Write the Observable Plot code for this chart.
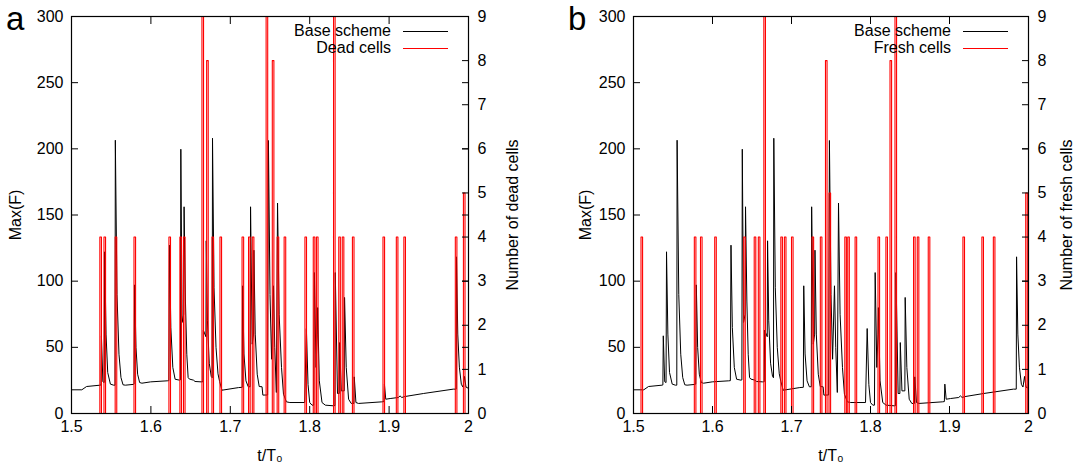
<!DOCTYPE html>
<html><head><meta charset="utf-8">
<script src="https://cdn.jsdelivr.net/npm/d3@7"></script>
<script src="https://cdn.jsdelivr.net/npm/@observablehq/plot@0.6"></script>
<style>
body{margin:0;background:#fff;}
#wrap{display:flex;width:1080px;height:466px;position:relative;font-family:"Liberation Sans",Arial,Helvetica,sans-serif;}
.panel{position:relative;width:540px;height:466px;}
.letter{position:absolute;font-size:33px;line-height:1;}
.leg{position:absolute;font-size:16px;line-height:1;white-space:nowrap;}
.legline{position:absolute;height:1.3px;}
</style></head><body>
<div id="wrap"></div>
<script>
// Base scheme Max(F) curve (same in both panels): [t/T0, Max(F)]
const baseScheme = [[1.500,17.9],[1.513,17.9],[1.519,20.4],[1.536,21.4],[1.5372,21.6],[1.5377,58.7],[1.5395,24],[1.5412,23.4],[1.5418,122.2],[1.5435,60],[1.5456,31],[1.549,22.2],[1.5531,21.4],[1.5548,21.4],[1.5552,206.5],[1.5573,90],[1.5598,44.8],[1.5623,27.2],[1.5649,21.7],[1.5678,21.4],[1.578,22],[1.5788,22.2],[1.5795,97.2],[1.5812,50],[1.5833,29.7],[1.5858,23.4],[1.5887,22.9],[1.5996,23.9],[1.6205,24.7],[1.6226,24.8],[1.6234,127.2],[1.6251,65],[1.6276,34.8],[1.6305,25.9],[1.636,25.2],[1.6372,25.4],[1.6377,199.7],[1.6393,68.8],[1.6413,75],[1.6418,156.2],[1.6435,85],[1.6452,44.8],[1.6469,27.2],[1.6485,26],[1.6536,25.2],[1.6556,24.2],[1.6632,23.9],[1.6655,24],[1.666,63],[1.6693,58],[1.6697,130.5],[1.6712,70],[1.6735,38],[1.676,28],[1.6772,27],[1.6776,208],[1.6795,95],[1.682,50],[1.6845,30],[1.6866,24],[1.6895,17.6],[1.7105,19.6],[1.715,19.8],[1.7155,96.5],[1.7172,45],[1.7197,24.7],[1.7226,20.2],[1.725,20.2],[1.7255,156.2],[1.7276,52.4],[1.7293,60],[1.7297,123.4],[1.7314,60],[1.7339,29.7],[1.7364,20.4],[1.74,20.2],[1.741,13.9],[1.747,14],[1.748,206.3],[1.75,90],[1.752,41],[1.7544,96.5],[1.756,50],[1.758,15.9],[1.7595,159],[1.7615,75],[1.7645,34.8],[1.767,14.6],[1.7707,8.8],[1.775,8.3],[1.7937,8.3],[1.7958,64.2],[1.7979,22],[1.8,8.3],[1.8029,6.3],[1.805,6.3],[1.8059,106.5],[1.808,34.8],[1.8095,60],[1.81,80],[1.8121,24.7],[1.8155,8.3],[1.8197,6.3],[1.83,5.8],[1.8318,6],[1.8322,106.5],[1.835,15.1],[1.8372,15.1],[1.8377,53.6],[1.8398,17.1],[1.8435,17.1],[1.8439,87.7],[1.846,34.8],[1.849,10.8],[1.8523,7.6],[1.8556,7.6],[1.8561,27.7],[1.8582,8.3],[1.8615,7.6],[1.8908,8.8],[1.8935,9],[1.8941,22.2],[1.8958,10.8],[1.9013,11.3],[1.9117,12.1],[1.9138,13.3],[1.916,12.1],[1.9197,12.8],[1.9431,15.1],[1.9808,18.4],[1.9845,18.4],[1.9849,118.4],[1.9865,60],[1.9885,35],[1.991,22],[1.993,20],[1.995,28],[1.9968,20],[2.0,19]];

// Panel a: dead cells events
const deadTimes  = [1.5367,1.5419,1.5560,1.5797,1.6237,1.6375,1.6420,1.6653,1.6712,1.6779,1.6880,1.7158,1.7240,1.7287,1.7461,1.7539,1.7600,1.7688,1.7950,1.8055,1.8095,1.8310,1.8376,1.8420,1.8548,1.8933,1.9101,1.9196,1.9844,1.9946];
const deadCounts = [4,4,4,4,4,4,4,9,8,4,4,4,4,4,9,8,4,4,4,4,4,9,4,4,4,4,4,4,4,5];

// Panel b: fresh cells events
const freshTimes  = [1.5105,1.5780,1.5858,1.6038,1.6405,1.6538,1.6590,1.6660,1.6875,1.6920,1.7010,1.7270,1.7375,1.7440,1.7485,1.7685,1.7722,1.7815,1.8105,1.8205,1.8257,1.8320,1.8555,1.8602,1.8741,1.9180,1.9420,1.9565,1.9975];
const freshCounts = [4,4,4,4,4,4,4,9,4,4,4,4,4,8,5,4,4,4,4,4,8,9,4,4,4,4,4,4,5];

const xTicks  = [1.5,1.6,1.7,1.8,1.9,2];
const yTicks  = [0,50,100,150,200,250,300];
const y2Ticks = [0,1,2,3,4,5,6,7,8,9];
const y2Max = 9, yMax = 300;
const pulseWidth = 0.002;

const FONT = '"Liberation Sans", Arial, Helvetica, sans-serif';

function pulses(times, counts) {
  const pts = [{t:1.5, v:0}];
  times.forEach((t,i) => {
    const v = counts[i] * yMax / y2Max;
    pts.push({t:t-pulseWidth/2, v:0},{t:t-pulseWidth/2, v},{t:t+pulseWidth/2, v},{t:t+pulseWidth/2, v:0});
  });
  pts.push({t:2, v:0});
  return pts;
}

function panel(cfg) {
  const base = baseScheme.map(([t,v]) => ({t, v}));
  const red = pulses(cfg.times, cfg.counts);
  const plot = Plot.plot({
    width: 540, height: 466,
    marginLeft: cfg.ml, marginRight: cfg.mr, marginTop: 16, marginBottom: 53,
    style: {fontFamily: FONT, fontSize: "16px", color: "black", background: "white"},
    x: {domain: [1.5, 2]},
    y: {domain: [0, 300]},
    marks: [
      Plot.line(base, {x:"t", y:"v", stroke:"black", strokeWidth:1, clip:true}),
      Plot.line(red, {x:"t", y:"v", stroke:"#ff0000", strokeWidth:1.1, clip:true}),
      Plot.frame({stroke:"black", strokeWidth:1.2}),
      Plot.axisX({ticks: xTicks, tickSize: -7, tickPadding: 14, tickFormat: d => String(d),
        label: "t/T\u2080", labelAnchor: "center", labelArrow: "none", labelOffset: 47}),
      Plot.axisX({anchor: "top", ticks: xTicks, tickSize: -7, tickFormat: () => "", label: null}),
      Plot.axisY({ticks: yTicks, tickSize: -7, tickPadding: 15, tickFormat: d => String(d),
        label: "Max(F)", labelAnchor: "center", labelArrow: "none", labelOffset: cfg.lo}),
      Plot.axisY({anchor: "right", ticks: yTicks, tickSize: -7, tickFormat: () => "", label: null}),
      Plot.axisY({anchor: "right", ticks: y2Ticks.map(n => n * yMax / y2Max), tickSize: -7, tickPadding: 16,
        tickFormat: d => String(Math.round(d * y2Max / yMax)),
        label: cfg.y2label, labelAnchor: "center", labelArrow: "none", labelOffset: cfg.ro})
    ]
  });
  const div = document.createElement("div");
  div.className = "panel";
  div.appendChild(plot);
  const L = document.createElement("div");
  L.className = "letter"; L.textContent = cfg.letter;
  L.style.left = cfg.letterX + "px"; L.style.top = "2px";
  div.appendChild(L);
  const names = ["Base scheme", cfg.name];
  const cols = ["black", "#ff0000"];
  const frameRight = 540 - cfg.mr;
  names.forEach((n,i) => {
    const t = document.createElement("div");
    t.className = "leg"; t.textContent = n;
    t.style.right = (540 - (frameRight - 77)) + "px";
    t.style.top = (23 + i*16.8) + "px";
    div.appendChild(t);
    const ln = document.createElement("div");
    ln.className = "legline"; ln.style.background = cols[i];
    ln.style.left = (frameRight - 65) + "px"; ln.style.width = "45px";
    ln.style.top = (31 + i*16.8) + "px";
    div.appendChild(ln);
  });
  return div;
}

const wrap = document.getElementById("wrap");
wrap.appendChild(panel({letter:"a", letterX:6, ml:71, mr:72, lo:62, ro:49,
  y2label:"Number of dead cells", name:"Dead cells", times:deadTimes, counts:deadCounts}));
wrap.appendChild(panel({letter:"b", letterX:28, ml:93, mr:52, lo:54, ro:43,
  y2label:"Number of fresh cells", name:"Fresh cells", times:freshTimes, counts:freshCounts}));
</script>
</body></html>
